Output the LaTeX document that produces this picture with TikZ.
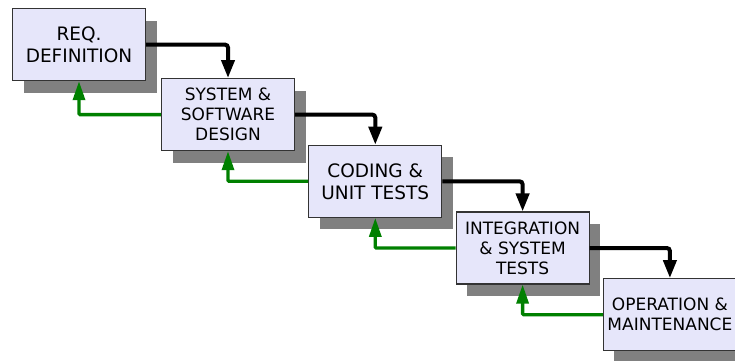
\documentclass[tikz,border=0pt]{standalone}
\usepackage{fontspec}
\setmainfont{DejaVu Sans}
\usepackage{xcolor}
\usepackage{tikz}
\usetikzlibrary{arrows.meta,positioning,shadows}

\definecolor{phasefill}{HTML}{E6E6FA}
\definecolor{phaseline}{HTML}{333333}
\definecolor{shadowgray}{HTML}{808080}
\definecolor{backgreen}{HTML}{008000}

\begin{document}
\begin{tikzpicture}[
    phase/.style={draw=phaseline, line width=1.2pt, fill=phasefill, minimum width=133pt, minimum height=72pt,
        align=center, text=black, font=\fontsize{17}{20}\selectfont,
        drop shadow={shadow xshift=11pt, shadow yshift=-12pt, fill=shadowgray, opacity=1}},
    big/.style={font=\fontsize{18.5}{22}\selectfont},
    fwd/.style={-{Triangle[length=18pt, width=13pt]}, line width=4pt, rounded corners=3pt},
    back/.style={-{Triangle[length=19pt, width=12pt]}, line width=3.3pt, draw=backgreen, rounded corners=1pt}
]
\useasboundingbox (0pt,0pt) rectangle (735pt,-360pt);

\node[phase, big] (req) at (79pt,-44.6pt) {REQ.\\DEFINITION};
\node[phase, below right=-3.2pt and 14.8pt of req] (design) {SYSTEM \&\\SOFTWARE\\DESIGN};
\node[phase, big, below right=-6.5pt and 13.1pt of design] (coding) {CODING \&\\UNIT TESTS};
\node[phase, below right=-6.5pt and 13.1pt of coding] (integ) {INTEGRATION\\\& SYSTEM\\TESTS};
\node[phase, below right=-6.5pt and 13.1pt of integ] (oper) {OPERATION \&\\MAINTENANCE};

% going down
\draw[fwd] (req.east) -| (design.north);
\draw[fwd] (design.east) -| (coding.north);
\draw[fwd] (coding.east) -| (integ.north);
\draw[fwd] (integ.east) -| (oper.north);

% going back
\draw[back] (design.west) -| (req.south);
\draw[back] (coding.west) -| (design.south);
\draw[back] (integ.west) -| (coding.south);
\draw[back] (oper.west) -| (integ.south);
\end{tikzpicture}
\end{document}
